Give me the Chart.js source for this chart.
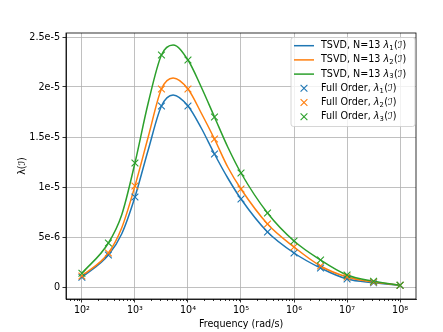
<!DOCTYPE html>
<html>
<head>
<meta charset="utf-8">
<script src="https://cdn.jsdelivr.net/npm/chart.js@4/dist/chart.umd.min.js"></script>
<style>
  html, body { margin: 0; padding: 0; background: #fff; }
</style>
</head>
<body>
<canvas id="lambdaChart" width="443" height="332"></canvas>
<script>
const FONT = 'DejaVu Sans';
const BLUE = '#1f77b4', ORANGE = '#ff7f0e', GREEN = '#2ca02c';
const MICRO = 1e-6;

// TSVD curves (values in 1e-6)
const curveFreq = [100, 316, 562, 1000, 1778, 3162, 5248, 10000, 17783, 31623, 56234,
    100000, 316228, 1000000, 3162278, 10000000, 31622777, 100000000];
const tsvd1 = [0.97, 3.2, 5.3, 9.0, 13.7, 18.1, 19.2, 18.1, 15.9, 13.3, 10.9, 8.8, 5.5, 3.4, 1.9, 0.8, 0.43, 0.17];
const tsvd2 = [1.1, 3.4, 5.9, 10.1, 15.0, 19.8, 20.9, 19.8, 17.4, 14.8, 12.0, 9.8, 6.3, 4.0, 2.1, 1.0, 0.5, 0.17];
const tsvd3 = [1.37, 4.4, 7.2, 12.4, 18.4, 23.2, 24.2, 22.7, 20.0, 17.0, 14.0, 11.4, 7.4, 4.6, 2.7, 1.2, 0.57, 0.17];

// Full order markers (values in 1e-6)
const fullFreq = [100, 316, 1000, 3162, 10000, 31623, 100000, 316228, 1000000, 3162278, 10000000, 31622777, 100000000];
const full1 = [0.97, 3.2, 9.0, 18.1, 18.1, 13.3, 8.8, 5.5, 3.4, 1.9, 0.8, 0.43, 0.17];
const full2 = [1.1, 3.4, 10.1, 19.8, 19.8, 14.8, 9.8, 6.3, 4.0, 2.1, 1.0, 0.5, 0.17];
const full3 = [1.37, 4.4, 12.4, 23.2, 22.7, 17.0, 11.4, 7.4, 4.6, 2.7, 1.2, 0.57, 0.17];

// axes
const xTicks = [1e2, 1e3, 1e4, 1e5, 1e6, 1e7, 1e8];
const xTickLabels = ['10²', '10³', '10⁴', '10⁵', '10⁶', '10⁷', '10⁸'];
const yTicks = [0, 5e-6, 1e-5, 1.5e-5, 2e-5, 2.5e-5];
const yTickLabels = ['0', '5e-6', '1e-5', '1.5e-5', '2e-5', '2.5e-5'];

const legendItems = [
    { kind: 'line', color: BLUE, text: 'TSVD, N=13 ', sub: '1' },
    { kind: 'line', color: ORANGE, text: 'TSVD, N=13 ', sub: '2' },
    { kind: 'line', color: GREEN, text: 'TSVD, N=13 ', sub: '3' },
    { kind: 'mark', color: BLUE, text: 'Full Order, ', sub: '1' },
    { kind: 'mark', color: ORANGE, text: 'Full Order, ', sub: '2' },
    { kind: 'mark', color: GREEN, text: 'Full Order, ', sub: '3' }
];

function pairs(xs, ys) {
    return xs.map((x, i) => ({ x: x, y: ys[i] * MICRO }));
}

function lineSet(data, color, order) {
    return {
        data: data, borderColor: color, backgroundColor: color, borderWidth: 1.5,
        pointRadius: 0, cubicInterpolationMode: 'monotone', order: order
    };
}

function markSet(data, color, order) {
    return {
        data: data, borderColor: color, backgroundColor: color, borderWidth: 1.1,
        showLine: false, pointStyle: 'crossRot', pointRadius: 4.8, order: order
    };
}

// little log ticks + top/right spines
const framePlugin = {
    id: 'frame',
    afterDraw(chart) {
        const ctx = chart.ctx, a = chart.chartArea, xs = chart.scales.x;
        ctx.save();
        ctx.strokeStyle = '#000';
        ctx.lineWidth = 0.8;
        ctx.beginPath();
        for (let n = 1; n <= 8; n++) {
            for (let k = 2; k <= 9; k++) {
                const v = k * Math.pow(10, n);
                if (v < xs.min || v > xs.max) continue;
                const px = Math.round(xs.getPixelForValue(v)) + 0.5;
                ctx.moveTo(px, a.bottom);
                ctx.lineTo(px, a.bottom + 2);
            }
        }
        ctx.stroke();
        ctx.strokeRect(a.left, a.top, a.right - a.left, a.bottom - a.top);
        ctx.restore();
    }
};

function drawLabel(ctx, x, y, item) {
    ctx.font = '9.6px "' + FONT + '"';
    ctx.fillText(item.text, x, y);
    x += ctx.measureText(item.text).width;
    ctx.font = 'italic 9.6px "' + FONT + '"';
    ctx.fillText('λ', x, y);
    x += ctx.measureText('λ').width;
    ctx.font = '6.8px "' + FONT + '"';
    ctx.fillText(item.sub, x, y + 2.5);
    x += ctx.measureText(item.sub).width + 0.5;
    ctx.font = '9.6px "' + FONT + '"';
    ctx.fillText('(', x, y);
    x += ctx.measureText('(').width;
    ctx.fillText('ℐ', x, y);
    x += ctx.measureText('ℐ').width + 0.3;
    ctx.fillText(')', x, y);
}

const legendPlugin = {
    id: 'boxLegend',
    afterDraw(chart) {
        const ctx = chart.ctx;
        const bx = 291, by = 37.5, bw = 124, bh = 89;
        ctx.save();
        ctx.beginPath();
        ctx.roundRect(bx, by, bw, bh, 2.5);
        ctx.fillStyle = 'rgba(255,255,255,0.8)';
        ctx.fill();
        ctx.strokeStyle = '#cccccc';
        ctx.lineWidth = 0.8;
        ctx.stroke();
        ctx.textBaseline = 'middle';
        legendItems.forEach((item, i) => {
            const cy = 45.7 + i * 14.2;
            ctx.strokeStyle = item.color;
            ctx.beginPath();
            if (item.kind === 'line') {
                ctx.lineWidth = 1.5;
                ctx.moveTo(294, cy);
                ctx.lineTo(314, cy);
            } else {
                ctx.lineWidth = 1.1;
                const r = 4.8 * Math.SQRT1_2;
                ctx.moveTo(304 - r, cy - r); ctx.lineTo(304 + r, cy + r);
                ctx.moveTo(304 - r, cy + r); ctx.lineTo(304 + r, cy - r);
            }
            ctx.stroke();
            ctx.fillStyle = '#000';
            drawLabel(ctx, 321, cy, item);
        });
        ctx.restore();
    }
};

new Chart(document.getElementById('lambdaChart'), {
    type: 'line',
    data: {
        datasets: [
            lineSet(pairs(curveFreq, tsvd1), BLUE, 5),
            lineSet(pairs(curveFreq, tsvd2), ORANGE, 4),
            lineSet(pairs(curveFreq, tsvd3), GREEN, 3),
            markSet(pairs(fullFreq, full1), BLUE, 2),
            markSet(pairs(fullFreq, full2), ORANGE, 1),
            markSet(pairs(fullFreq, full3), GREEN, 0)
        ]
    },
    options: {
        responsive: false,
        devicePixelRatio: 1,
        animation: false,
        layout: { padding: { left: 0, top: 33, right: 27, bottom: 0 } },
        plugins: {
            legend: { display: false },
            tooltip: { enabled: false }
        },
        scales: {
            x: {
                type: 'logarithmic',
                min: 50.12,
                max: 199526231,
                afterFit: function (scale) { scale.height = 33; },
                afterBuildTicks: function (scale) {
                    scale.ticks = xTicks.map(v => ({ value: v, major: true }));
                },
                grid: { color: '#b0b0b0', lineWidth: 0.8, tickLength: 3.5, tickColor: '#000' },
                border: { color: '#000', width: 0.8 },
                ticks: {
                    color: '#000', padding: 2, maxRotation: 0, autoSkip: false,
                    font: { family: FONT, size: 9.6 },
                    callback: function (value, index) { return xTickLabels[index]; }
                },
                title: {
                    display: true, text: 'Frequency (rad/s)', color: '#000',
                    font: { family: FONT, size: 9.6 }, padding: { top: 2, bottom: 2 }
                }
            },
            y: {
                min: -1.2e-6,
                max: 2.54e-5,
                afterFit: function (scale) { scale.width = 66; },
                afterBuildTicks: function (scale) {
                    scale.ticks = yTicks.map(v => ({ value: v }));
                },
                grid: { color: '#b0b0b0', lineWidth: 0.8, tickLength: 3.5, tickColor: '#000' },
                border: { color: '#000', width: 0.8 },
                ticks: {
                    color: '#000', padding: 2.5,
                    font: { family: FONT, size: 9.6 },
                    callback: function (value, index) { return yTickLabels[index]; }
                },
                title: {
                    display: true, text: 'λ(ℐ)', color: '#000',
                    font: { family: FONT, size: 9.6 }, padding: { top: 17, bottom: 0 }
                }
            }
        }
    },
    plugins: [framePlugin, legendPlugin]
});
</script>
</body>
</html>
